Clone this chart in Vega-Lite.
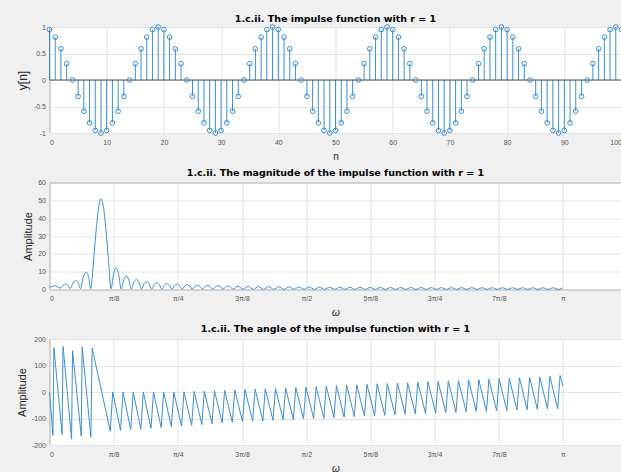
{
"$schema": "https://vega.github.io/schema/vega-lite/v6.json",
"background": "#f0f0f0",
"padding": {"left": 15.5, "top": 13, "right": 0, "bottom": 0},
"spacing": 4.5,
"config": {
 "view": {"fill": "white", "stroke": "#8c8c8c", "strokeWidth": 1},
 "axis": {"grid": true, "gridColor": "#e3e3e3", "domain": false, "ticks": false, "labelFont": "Liberation Sans", "labelFontSize": 7, "labelColor": "#555555", "labelPadding": 5, "labelOverlap": false, "titleFont": "Liberation Sans", "titleFontWeight": "normal", "titleColor": "#262626", "titlePadding": 6},
 "axisY": {"labelPadding": 4, "titlePadding": 4},
 "title": {"font": "DejaVu Sans", "fontSize": 9.5, "fontWeight": "bold", "color": "#000000", "offset": 1.5}
},
"datasets": {
 "stem": [
  {"n":0,"y":0.951},{"n":1,"y":0.809},{"n":2,"y":0.588},{"n":3,"y":0.309},{"n":4,"y":0},{"n":5,"y":-0.309},{"n":6,"y":-0.588},{"n":7,"y":-0.809},{"n":8,"y":-0.951},{"n":9,"y":-1},{"n":10,"y":-0.951},{"n":11,"y":-0.809},{"n":12,"y":-0.588},{"n":13,"y":-0.309},{"n":14,"y":0},{"n":15,"y":0.309},{"n":16,"y":0.588},{"n":17,"y":0.809},{"n":18,"y":0.951},{"n":19,"y":1},
  {"n":20,"y":0.951},{"n":21,"y":0.809},{"n":22,"y":0.588},{"n":23,"y":0.309},{"n":24,"y":0},{"n":25,"y":-0.309},{"n":26,"y":-0.588},{"n":27,"y":-0.809},{"n":28,"y":-0.951},{"n":29,"y":-1},{"n":30,"y":-0.951},{"n":31,"y":-0.809},{"n":32,"y":-0.588},{"n":33,"y":-0.309},{"n":34,"y":0},{"n":35,"y":0.309},{"n":36,"y":0.588},{"n":37,"y":0.809},{"n":38,"y":0.951},{"n":39,"y":1},
  {"n":40,"y":0.951},{"n":41,"y":0.809},{"n":42,"y":0.588},{"n":43,"y":0.309},{"n":44,"y":0},{"n":45,"y":-0.309},{"n":46,"y":-0.588},{"n":47,"y":-0.809},{"n":48,"y":-0.951},{"n":49,"y":-1},{"n":50,"y":-0.951},{"n":51,"y":-0.809},{"n":52,"y":-0.588},{"n":53,"y":-0.309},{"n":54,"y":0},{"n":55,"y":0.309},{"n":56,"y":0.588},{"n":57,"y":0.809},{"n":58,"y":0.951},{"n":59,"y":1},
  {"n":60,"y":0.951},{"n":61,"y":0.809},{"n":62,"y":0.588},{"n":63,"y":0.309},{"n":64,"y":0},{"n":65,"y":-0.309},{"n":66,"y":-0.588},{"n":67,"y":-0.809},{"n":68,"y":-0.951},{"n":69,"y":-1},{"n":70,"y":-0.951},{"n":71,"y":-0.809},{"n":72,"y":-0.588},{"n":73,"y":-0.309},{"n":74,"y":0},{"n":75,"y":0.309},{"n":76,"y":0.588},{"n":77,"y":0.809},{"n":78,"y":0.951},{"n":79,"y":1},
  {"n":80,"y":0.951},{"n":81,"y":0.809},{"n":82,"y":0.588},{"n":83,"y":0.309},{"n":84,"y":0},{"n":85,"y":-0.309},{"n":86,"y":-0.588},{"n":87,"y":-0.809},{"n":88,"y":-0.951},{"n":89,"y":-1},{"n":90,"y":-0.951},{"n":91,"y":-0.809},{"n":92,"y":-0.588},{"n":93,"y":-0.309},{"n":94,"y":0},{"n":95,"y":0.309},{"n":96,"y":0.588},{"n":97,"y":0.809},{"n":98,"y":0.951},{"n":99,"y":1},
  {"n":100,"y":0.951}
 ],
 "mag": [
  {"w":0,"m":0.95},{"w":0.016,"m":1.7},{"w":0.031,"m":2.1},{"w":0.047,"m":1.6},{"w":0.066,"m":0.8},
  {"w":0.082,"m":2.3},{"w":0.098,"m":3.1},{"w":0.113,"m":2.3},{"w":0.1275,"m":0.5},
  {"w":0.144,"m":3.7},{"w":0.161,"m":5.1},{"w":0.176,"m":3.8},{"w":0.19,"m":0.4},
  {"w":0.206,"m":7.0},{"w":0.225,"m":9.7},{"w":0.239,"m":7.3},{"w":0.252,"m":0.5},
  {"w":0.2675,"m":13.7},{"w":0.283,"m":30.8},{"w":0.2986,"m":44.5},{"w":0.314,"m":50.9},{"w":0.3297,"m":46.5},{"w":0.345,"m":33.6},{"w":0.3608,"m":16.7},{"w":0.3764,"m":0.4},
  {"w":0.3915,"m":8.3},{"w":0.405,"m":12.1},{"w":0.4225,"m":8.8},{"w":0.4386,"m":0.3},
  {"w":0.4542,"m":5.4},{"w":0.4697,"m":7.6},{"w":0.4853,"m":5.3},{"w":0.5008,"m":0.3},
  {"w":0.5164,"m":4.0},{"w":0.5319,"m":5.6},{"w":0.5475,"m":4.0},{"w":0.563,"m":0.3},
  {"w":0.5786,"m":3.2},{"w":0.5941,"m":4.5},{"w":0.6097,"m":3.2},{"w":0.6252,"m":0.2},
  {"w":0.6408,"m":2.7},{"w":0.6563,"m":3.8},{"w":0.6719,"m":2.7},{"w":0.6874,"m":0.2},
  {"w":0.703,"m":2.4},{"w":0.7185,"m":3.3},{"w":0.7341,"m":2.4},{"w":0.7496,"m":0.2},
  {"w":0.7652,"m":2.1},{"w":0.7807,"m":3.0},{"w":0.7963,"m":2.1},{"w":0.8118,"m":0.2},
  {"w":0.8274,"m":1.9},{"w":0.8429,"m":2.7},{"w":0.8585,"m":1.9},{"w":0.874,"m":0.2},
  {"w":0.8896,"m":1.75},{"w":0.9051,"m":2.46},{"w":0.9207,"m":1.75},{"w":0.9362,"m":0.2},
  {"w":0.9518,"m":1.6},{"w":0.9673,"m":2.27},{"w":0.9829,"m":1.6},{"w":0.9984,"m":0.15},
  {"w":1.014,"m":1.5},{"w":1.0295,"m":2.11},{"w":1.0451,"m":1.5},{"w":1.0606,"m":0.15},
  {"w":1.0762,"m":1.4},{"w":1.0917,"m":1.98},{"w":1.1073,"m":1.4},{"w":1.1228,"m":0.15},
  {"w":1.1539,"m":1.86},{"w":1.185,"m":0.1},{"w":1.2161,"m":1.77},{"w":1.2472,"m":0.1},
  {"w":1.2783,"m":1.68},{"w":1.3094,"m":0.1},{"w":1.3405,"m":1.61},{"w":1.3716,"m":0.1},
  {"w":1.4027,"m":1.55},{"w":1.4338,"m":0.1},{"w":1.4649,"m":1.49},{"w":1.496,"m":0.1},
  {"w":1.5271,"m":1.43},{"w":1.5582,"m":0.1},{"w":1.5893,"m":1.37},{"w":1.6204,"m":0.1},
  {"w":1.6515,"m":1.33},{"w":1.6826,"m":0.1},{"w":1.7137,"m":1.29},{"w":1.7448,"m":0.1},
  {"w":1.7759,"m":1.25},{"w":1.807,"m":0.1},{"w":1.8381,"m":1.22},{"w":1.8692,"m":0.1},
  {"w":1.9003,"m":1.19},{"w":1.9314,"m":0.1},{"w":1.9625,"m":1.16},{"w":1.9936,"m":0.1},
  {"w":2.0247,"m":1.14},{"w":2.0558,"m":0.1},{"w":2.0869,"m":1.12},{"w":2.118,"m":0.1},
  {"w":2.1491,"m":1.09},{"w":2.1802,"m":0.1},{"w":2.2113,"m":1.07},{"w":2.2424,"m":0.1},
  {"w":2.2735,"m":1.06},{"w":2.3046,"m":0.1},{"w":2.3357,"m":1.04},{"w":2.3668,"m":0.1},
  {"w":2.3979,"m":1.03},{"w":2.429,"m":0.1},{"w":2.4601,"m":1.02},{"w":2.4912,"m":0.1},
  {"w":2.5223,"m":1.0},{"w":2.5534,"m":0.1},{"w":2.5845,"m":0.99},{"w":2.6156,"m":0.1},
  {"w":2.6467,"m":0.98},{"w":2.6778,"m":0.1},{"w":2.7089,"m":0.98},{"w":2.74,"m":0.1},
  {"w":2.7711,"m":0.97},{"w":2.8022,"m":0.1},{"w":2.8333,"m":0.96},{"w":2.8644,"m":0.1},
  {"w":2.8955,"m":0.96},{"w":2.9266,"m":0.1},{"w":2.9577,"m":0.96},{"w":2.9888,"m":0.1},
  {"w":3.0199,"m":0.95},{"w":3.051,"m":0.1},{"w":3.0821,"m":0.95},{"w":3.1132,"m":0.1},
  {"w":3.1416,"m":0.95}
 ],
 "ph": [
  {"w":0,"p":0},{"w":0.021,"p":-163},{"w":0.027,"p":168},{"w":0.077,"p":-160},{"w":0.083,"p":172},{"w":0.135,"p":-178},{"w":0.141,"p":156},{"w":0.194,"p":-166},{"w":0.2,"p":170},{"w":0.253,"p":-170},{"w":0.261,"p":166},{"w":0.372,"p":-148},
  {"w":0.387,"p":0},{"w":0.4346,"p":-145},{"w":0.45,"p":0},{"w":0.4968,"p":-142},{"w":0.512,"p":0},{"w":0.559,"p":-140},{"w":0.574,"p":0},{"w":0.6212,"p":-137},{"w":0.6362,"p":0},{"w":0.6834,"p":-134},{"w":0.6984,"p":0},{"w":0.7456,"p":-131},{"w":0.7606,"p":0},{"w":0.8078,"p":-129},{"w":0.8228,"p":1},{"w":0.87,"p":-126},{"w":0.885,"p":2},{"w":0.9322,"p":-123},{"w":0.9472,"p":3},{"w":0.9944,"p":-120},{"w":1.0094,"p":5},{"w":1.0566,"p":-117},{"w":1.0716,"p":6},{"w":1.1188,"p":-114},{"w":1.1338,"p":8},{"w":1.181,"p":-112},{"w":1.196,"p":9},{"w":1.2432,"p":-110},{"w":1.2582,"p":11},{"w":1.3054,"p":-109},{"w":1.3204,"p":12},{"w":1.3676,"p":-107},{"w":1.3826,"p":14},{"w":1.4298,"p":-105},{"w":1.4448,"p":15},{"w":1.492,"p":-104},{"w":1.507,"p":17},{"w":1.5542,"p":-102},{"w":1.5692,"p":19},{"w":1.6164,"p":-100},{"w":1.6314,"p":20},{"w":1.6786,"p":-99},{"w":1.6936,"p":22},{"w":1.7408,"p":-97},{"w":1.7558,"p":24},{"w":1.803,"p":-95},{"w":1.818,"p":26},{"w":1.8652,"p":-93},{"w":1.8802,"p":27},{"w":1.9274,"p":-91},{"w":1.9424,"p":29},{"w":1.9896,"p":-89},{"w":2.0046,"p":31},{"w":2.0518,"p":-88},{"w":2.0668,"p":32},{"w":2.114,"p":-86},{"w":2.129,"p":34},{"w":2.1762,"p":-84},{"w":2.1912,"p":35},{"w":2.2384,"p":-83},{"w":2.2534,"p":37},{"w":2.3006,"p":-81},{"w":2.3156,"p":39},{"w":2.3628,"p":-80},{"w":2.3778,"p":40},{"w":2.425,"p":-78},{"w":2.44,"p":42},{"w":2.4872,"p":-77},{"w":2.5022,"p":43},{"w":2.5494,"p":-75},{"w":2.5644,"p":45},{"w":2.6116,"p":-74},{"w":2.6266,"p":47},{"w":2.6738,"p":-73},{"w":2.6888,"p":48},{"w":2.736,"p":-71},{"w":2.751,"p":50},{"w":2.7982,"p":-70},{"w":2.8132,"p":52},{"w":2.8604,"p":-68},{"w":2.8754,"p":54},{"w":2.9226,"p":-67},{"w":2.9376,"p":55},{"w":2.9848,"p":-65},{"w":2.9998,"p":57},{"w":3.047,"p":-64},{"w":3.062,"p":59},{"w":3.1092,"p":-63},{"w":3.1242,"p":62},{"w":3.1416,"p":22}
 ]
},
"vconcat": [
 {
  "title": {"text": "1.c.ii. The impulse function with r = 1", "offset": -1},
  "width": 572, "height": 106,
  "layer": [
   {"data": {"name": "stem"},
    "mark": {"type": "rule", "color": "#3c8fd2", "strokeWidth": 1},
    "encoding": {
     "x": {"field": "n", "type": "quantitative", "scale": {"domain": [0, 100], "nice": false}, "axis": {"values": [0,10,20,30,40,50,60,70,80,90,100], "labelExpr": "'' + datum.value", "title": "n", "titleFontSize": 10}},
     "y": {"field": "y", "type": "quantitative", "scale": {"domain": [-1, 1], "nice": false}, "axis": {"values": [-1,-0.5,0,0.5,1], "labelExpr": "'' + datum.value", "title": "y[n]", "titleFontSize": 12}},
     "y2": {"datum": 0}
    }},
   {"data": {"values": [{}]},
    "mark": {"type": "rule", "color": "#4d4d4d", "strokeWidth": 1},
    "encoding": {"y": {"datum": 0, "type": "quantitative", "axis": {"values": [-1,-0.5,0,0.5,1], "labelExpr": "'' + datum.value", "title": "y[n]", "titleFontSize": 12}}}},
   {"data": {"name": "stem"},
    "mark": {"type": "point", "shape": "circle", "filled": false, "size": 22, "color": "#3c8fd2", "strokeWidth": 1, "opacity": 1},
    "encoding": {
     "x": {"field": "n", "type": "quantitative", "axis": {"values": [0,10,20,30,40,50,60,70,80,90,100], "labelExpr": "'' + datum.value", "title": "n", "titleFontSize": 10}},
     "y": {"field": "y", "type": "quantitative", "axis": {"values": [-1,-0.5,0,0.5,1], "labelExpr": "'' + datum.value", "title": "y[n]", "titleFontSize": 12}}
    }}
  ]
 },
 {
  "title": "1.c.ii. The magnitude of the impulse function with r = 1",
  "width": 572, "height": 107,
  "data": {"name": "mag"},
  "mark": {"type": "line", "color": "#3c8fd2", "strokeWidth": 1, "interpolate": "monotone"},
  "encoding": {
   "x": {"field": "w", "type": "quantitative", "scale": {"domain": [0, 3.5], "nice": false}, "axis": {"values": [0,0.392699,0.785398,1.178097,1.570796,1.963495,2.356194,2.748894,3.141593], "labelExpr": "['0','π/8','π/4','3π/8','π/2','5π/8','3π/4','7π/8','π'][round(datum.value*8/PI)]", "title": "ω", "titleFontSize": 10, "titleFontStyle": "italic"}},
   "y": {"field": "m", "type": "quantitative", "scale": {"domain": [0, 60], "nice": false}, "axis": {"values": [0,10,20,30,40,50,60], "labelExpr": "'' + datum.value", "title": "Amplitude", "titleFontSize": 11}}
  }
 },
 {
  "title": "1.c.ii. The angle of the impulse function with r = 1",
  "width": 572, "height": 106,
  "data": {"name": "ph"},
  "mark": {"type": "line", "color": "#3c8fd2", "strokeWidth": 1},
  "encoding": {
   "x": {"field": "w", "type": "quantitative", "scale": {"domain": [0, 3.5], "nice": false}, "axis": {"values": [0,0.392699,0.785398,1.178097,1.570796,1.963495,2.356194,2.748894,3.141593], "labelExpr": "['0','π/8','π/4','3π/8','π/2','5π/8','3π/4','7π/8','π'][round(datum.value*8/PI)]", "title": "ω", "titleFontSize": 10, "titleFontStyle": "italic"}},
   "y": {"field": "p", "type": "quantitative", "scale": {"domain": [-200, 200], "nice": false}, "axis": {"values": [-200,-100,0,100,200], "labelExpr": "'' + datum.value", "title": "Amplitude", "titleFontSize": 11}}
  }
 }
]
}
